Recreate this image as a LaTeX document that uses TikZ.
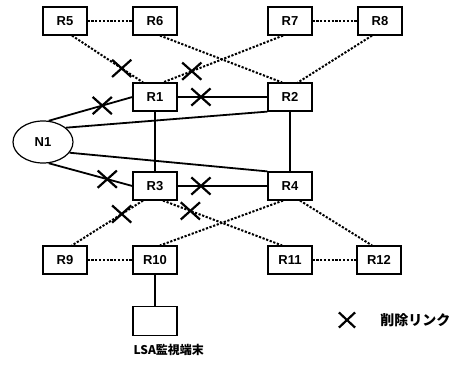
\documentclass[tikz,border=0pt]{standalone}
\usepackage{fontspec}
\setmainfont{Liberation Sans}
\newfontfamily\cjk{Noto Sans CJK JP}
\usetikzlibrary{shapes.geometric, shapes.misc, positioning}

\begin{document}
\begin{tikzpicture}[
    x=1pt, y=-1pt,
    router/.style={draw, line width=1.2pt, minimum width=44pt, minimum height=28pt, inner sep=0pt, font=\fontsize{13}{15}\selectfont\bfseries},
    net/.style={draw, ellipse, line width=1.2pt, minimum width=60pt, minimum height=42pt, inner sep=0pt, font=\fontsize{13}{15}\selectfont\bfseries},
    link/.style={line width=1.8pt},
    flood/.style={line width=2pt, dash pattern=on 2.2pt off 1.6pt},
    cut/.style={draw, solid, cross out, line width=2.2pt, minimum width=17pt, minimum height=15pt, inner sep=0pt}
]
\useasboundingbox (0,0) rectangle (468,364);

% routers
\node[router] (r5) at (65,21) {R5};
\node[router] (r6) at (155,21) {R6};
\node[router] (r7) at (290,21) {R7};
\node[router] (r8) at (380,21) {R8};
\node[router] (r1) at (155,97) {R1};
\node[router] (r2) at (290,97) {R2};
\node[net] (n1) at (43,142) {N1};
\node[router] (r3) at (155,186) {R3};
\node[router] (r4) at (290,186) {R4};
\node[router] (r9) at (65,260) {R9};
\node[router] (r10) at (155,260) {R10};
\node[router] (r11) at (290,260) {R11};
\node[router] (r12) at (379,260) {R12};
\node[router, minimum height=29pt] (term) at (155,321) {};
\node[below right=7pt and 0pt of term.south west, inner sep=1pt, font=\cjk\fontsize{12}{14}\selectfont\bfseries] (termlabel) {LSA監視端末};

% solid links
\draw[link] (n1.75) -- node[cut, pos=0.64] (x3) {} (r1.west);
\draw[link] (n1.32) -- (r2.south west);
\draw[link] (n1.-22) -- (r4.north west);
\draw[link] (n1.-75) -- node[cut, pos=0.7] (x4) {} (r3.west);
\draw[link] (r1) -- node[cut, pos=0.26] (x5) {} (r2);
\draw[link] (r3) -- node[cut, pos=0.26] (x6) {} (r4);
\draw[link] (r1) -- (r3);
\draw[link] (r2) -- (r4);
\draw[link] (r10) -- (term);

% dotted links
\draw[flood] (r5) -- (r6);
\draw[flood] (r7) -- (r8);
\draw[flood] (r9) -- (r10);
\draw[flood] (r11) -- (r12);
\draw[flood] ([xshift=7pt]r5.south) -- node[cut, pos=0.7] (x1) {} ([xshift=-12pt]r1.north);
\draw[flood] ([xshift=5pt]r6.south) -- ([xshift=-8pt]r2.north);
\draw[flood] ([xshift=-7pt]r7.south) -- node[cut, pos=0.76] (x2) {} ([xshift=8pt]r1.north);
\draw[flood] ([xshift=-8pt]r8.south) -- ([xshift=8pt]r2.north);
\draw[flood] ([xshift=-12pt]r3.south) -- node[cut, pos=0.3] (x7) {} ([xshift=7pt]r9.north);
\draw[flood] ([xshift=8pt]r3.south) -- node[cut, pos=0.23] (x8) {} ([xshift=-8pt]r11.north);
\draw[flood] ([xshift=-7pt]r4.south) -- ([xshift=5pt]r10.north);
\draw[flood] ([xshift=10pt]r4.south) -- ([xshift=-7pt]r12.north);

% legend
\node[cut, minimum width=14pt, minimum height=13pt] (legendx) at (347,320) {};
\node[right=24pt of legendx, inner sep=1pt, font=\cjk\fontsize{14}{16}\selectfont\bfseries] (legendtext) {削除リンク};
\end{tikzpicture}
\end{document}
